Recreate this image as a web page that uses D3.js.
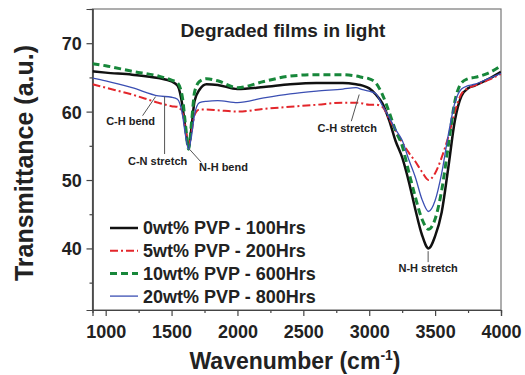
<!DOCTYPE html>
<html>
<head>
<meta charset="utf-8">
<script src="https://cdn.jsdelivr.net/npm/d3@7"></script>
<style>
body{margin:0;background:#fff;}
text{font-family:"Liberation Sans",Arial,sans-serif;font-weight:bold;fill:#222;}
</style>
</head>
<body>
<script>
// FTIR spectra, degraded films in light
const wavenumbers = [900, 1000, 1200, 1400, 1500, 1545, 1583, 1606, 1629, 1652, 1674, 1712, 1765, 1850, 2000, 2200, 2400, 2600, 2800, 2900, 2950, 3000, 3050, 3100, 3150, 3200, 3250, 3300, 3350, 3400, 3450, 3500, 3550, 3600, 3650, 3700, 3750, 3800, 3900, 4000];
const pvp0 = [65.9, 65.7, 65.4, 64.9, 64.4, 63.8, 60.8, 57.4, 54.8, 57.8, 61.5, 63.2, 64.0, 63.9, 63.3, 63.6, 64.0, 64.2, 64.2, 64.0, 63.8, 63.4, 62.5, 61.2, 58.8, 55.7, 53.3, 49.8, 45.7, 42.0, 40.0, 41.8, 45.3, 51.8, 58.7, 62.3, 63.4, 63.8, 64.7, 65.8];
const pvp5 = [64.0, 63.5, 62.5, 61.3, 60.8, 60.7, 59.8, 57.5, 55.0, 57.0, 59.5, 60.3, 60.3, 60.2, 60.0, 60.4, 60.7, 61.0, 61.3, 61.3, 61.2, 61.0, 61.0, 60.7, 59.0, 57.2, 55.5, 54.0, 52.7, 51.2, 50.0, 51.0, 53.3, 56.3, 60.0, 62.6, 63.4, 63.8, 64.6, 65.5];
const pvp10 = [67.0, 66.7, 65.9, 65.2, 64.6, 64.2, 62.0, 58.0, 54.5, 58.5, 62.8, 64.4, 64.8, 64.5, 63.5, 64.4, 65.2, 65.4, 65.4, 65.2, 65.0, 64.8, 64.2, 62.5, 60.0, 57.2, 55.0, 51.2, 47.5, 44.3, 42.8, 44.3, 48.5, 55.0, 61.5, 64.2, 64.8, 65.0, 65.6, 66.7];
const pvp20 = [64.9, 64.5, 63.5, 62.3, 62.1, 61.8, 59.5, 56.5, 54.5, 56.5, 59.5, 61.3, 61.5, 61.6, 61.3, 62.0, 62.6, 63.0, 63.3, 63.5, 63.2, 63.0, 62.6, 60.9, 59.2, 57.4, 55.8, 53.0, 50.4, 47.2, 45.4, 47.0, 51.0, 56.6, 61.3, 63.3, 63.8, 64.0, 64.8, 65.6];
const seriesNames = ["0wt% PVP - 100Hrs", "5wt% PVP - 200Hrs", "10wt% PVP - 600Hrs", "20wt% PVP - 800Hrs"];
const xTicks = [1000, 1500, 2000, 2500, 3000, 3500, 4000];
const yTicks = [40, 50, 60, 70];

// peak labels: text, label position [wn, T], leader line from [wn, T] to [wn, T]
const peakNames = ["C-H bend", "C-N stretch", "N-H bend", "C-H stretch", "N-H stretch"];
const peakLabelAt = [[1189, 58.0], [1394, 52.2], [1894, 51.3], [2833, 57.0], [3447, 36.5]];
const peakLineFrom = [[1379, 62.2], [1447, 62.2], [1636, 54.5], [2924, 62.5], [3447, 39.6]];
const peakLineTo = [[1280, 59.4], [1447, 53.8], [1725, 52.6], [2864, 58.6], [3447, 38.0]];

const colors = ["#111111", "#e3262b", "#17873a", "#3b4fb3"];
const widths = [2.5, 2, 3, 1.3];
const dashes = [null, "8,3,2,3", "7,4", null];

const W = 525, H = 375;
const m = {left: 92.5, right: 501, top: 9, bottom: 310};

const svg = d3.select("body").append("svg").attr("width", W).attr("height", H);

const x = d3.scaleLinear().domain([900, 4000]).range([m.left, m.right]);
const y = d3.scaleLinear().domain([31, 75]).range([m.bottom, m.top]);

// frame
svg.append("rect")
  .attr("x", m.left).attr("y", m.top)
  .attr("width", m.right - m.left).attr("height", m.bottom - m.top)
  .attr("fill", "none").attr("stroke", "#777").attr("stroke-width", 1.2);

// axes
const xAxis = svg.append("g").attr("transform", `translate(0,${m.bottom})`)
  .call(d3.axisBottom(x).tickValues(xTicks).tickSize(6).tickFormat(d3.format("d")));
svg.append("g").attr("transform", `translate(0,${m.bottom})`)
  .call(d3.axisBottom(x).tickValues(d3.range(1250, 4000, 500)).tickSize(3).tickFormat(""));
const yAxis = svg.append("g").attr("transform", `translate(${m.left},0)`)
  .call(d3.axisLeft(y).tickValues(yTicks).tickSize(6));
svg.append("g").attr("transform", `translate(${m.left},0)`)
  .call(d3.axisLeft(y).tickValues([35, 45, 55, 65, 75]).tickSize(3).tickFormat(""));
svg.selectAll(".domain").attr("stroke", "#444").attr("stroke-width", 1.2);
svg.selectAll(".tick line").attr("stroke", "#444").attr("stroke-width", 1.2);
xAxis.selectAll("text").attr("font-size", 18).attr("font-family", null).attr("dy", "1.05em");
yAxis.selectAll("text").attr("font-size", 18).attr("font-family", null).attr("dx", "-0.1em").attr("dy", "0.36em");

// spectra
const series = [pvp0, pvp5, pvp10, pvp20];
const line = d3.line()
  .x((d, i) => x(wavenumbers[i]))
  .y(d => y(d))
  .curve(d3.curveMonotoneX);

svg.append("clipPath").attr("id", "clip")
  .append("rect").attr("x", m.left).attr("y", m.top)
  .attr("width", m.right - m.left).attr("height", m.bottom - m.top);

svg.append("g").attr("clip-path", "url(#clip)")
  .selectAll("path").data(series).join("path")
  .attr("d", line)
  .attr("fill", "none")
  .attr("stroke", (d, i) => colors[i])
  .attr("stroke-width", (d, i) => widths[i])
  .attr("stroke-dasharray", (d, i) => dashes[i]);

// peak labels
peakNames.forEach((name, i) => {
  svg.append("line")
    .attr("x1", x(peakLineFrom[i][0])).attr("y1", y(peakLineFrom[i][1]))
    .attr("x2", x(peakLineTo[i][0])).attr("y2", y(peakLineTo[i][1]))
    .attr("stroke", "#555").attr("stroke-width", 1);
  svg.append("text")
    .attr("x", x(peakLabelAt[i][0])).attr("y", y(peakLabelAt[i][1]))
    .attr("text-anchor", "middle").attr("font-size", 11)
    .text(name);
});

// title
svg.append("text").attr("x", 283).attr("y", 37)
  .attr("text-anchor", "middle").attr("font-size", 19)
  .text("Degraded films in light");

// legend
const legend = svg.append("g").attr("transform", "translate(110,228)");
seriesNames.forEach((name, i) => {
  const g = legend.append("g").attr("transform", `translate(0,${i * 22.7})`);
  g.append("line").attr("x1", 0).attr("x2", 28).attr("y1", 0).attr("y2", 0)
    .attr("stroke", colors[i]).attr("stroke-width", widths[i])
    .attr("stroke-dasharray", dashes[i]);
  g.append("text").attr("x", 33).attr("y", 0).attr("dy", "0.36em")
    .attr("font-size", 18).text(name);
});

// axis titles
const xt = svg.append("text").attr("x", 295).attr("y", 369)
  .attr("text-anchor", "middle").attr("font-size", 23);
xt.append("tspan").text("Wavenumber (cm");
xt.append("tspan").attr("font-size", 14).attr("dy", -9).text("-1");
xt.append("tspan").attr("dy", 9).text(")");

svg.append("text")
  .attr("transform", "translate(33,163) rotate(-90)")
  .attr("text-anchor", "middle").attr("font-size", 25)
  .text("Transmittance (a.u.)");
</script>
</body>
</html>
